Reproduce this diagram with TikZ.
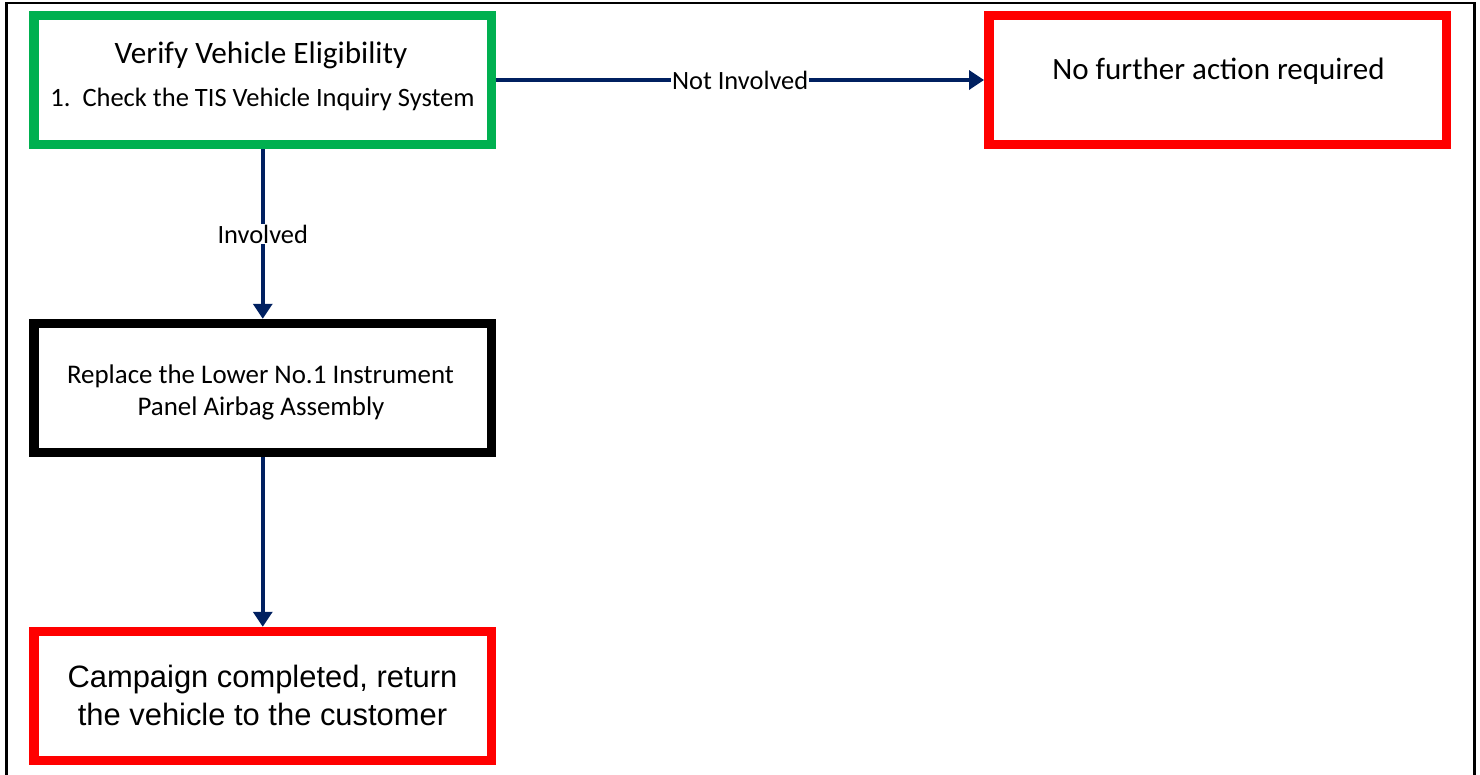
\documentclass[tikz,border=0pt]{standalone}
\usepackage{fontspec}
\setmainfont{Carlito}
\newfontfamily\arialfont{Liberation Sans}
\usetikzlibrary{arrows.meta,calc}
\definecolor{navy}{HTML}{002060}
\definecolor{boxgreen}{HTML}{00B050}
\definecolor{boxred}{HTML}{FF0000}
\tikzset{
  box/.style={draw, line width=9.5pt, fill=white, minimum width=457.5pt, minimum height=129pt, inner sep=0pt},
  flow/.style={draw=navy, line width=3.5pt, -{Triangle[length=15pt,width=19pt]}},
  edgelabel/.style={fill=white, inner sep=1pt, font=\fontsize{26.4}{30}\selectfont},
}
\begin{document}
\begin{tikzpicture}[x=1pt,y=-1pt]
\useasboundingbox (0,0) rectangle (1480,774);
\draw[line width=2.5pt] (6.5,810) -- (6.5,3) -- (1474.5,3) -- (1474.5,810);

\node[box, draw=boxgreen] (ver) at (262.75,80) {};
\node[box, draw=boxred] (nofa) at (1217.5,80) {};
\node[box, draw=black] (rep) at (262.75,388) {};
\node[box, draw=boxred] (camp) at (262.75,696) {};

\node[anchor=base, font=\fontsize{31.2}{35}\selectfont] (vt1) at (261,63) {Verify Vehicle Eligibility};
\node[anchor=base, font=\fontsize{26.5}{30}\selectfont] (vt2) at (262.5,106) {1.\ \ Check the TIS Vehicle Inquiry System};
\node[anchor=base, font=\fontsize{31}{35}\selectfont] (nt) at (1218.5,79) {No further action required};
\node[anchor=base, font=\fontsize{26.9}{30}\selectfont] (rt1) at (260.5,383) {Replace the Lower No.1 Instrument};
\node[anchor=base, font=\fontsize{26.9}{30}\selectfont] (rt2) at (261,415) {Panel Airbag Assembly};
\node[anchor=base, font=\arialfont\fontsize{30.9}{35}\selectfont] (ct1) at (262.5,687) {Campaign completed, return};
\node[anchor=base, font=\arialfont\fontsize{30.9}{35}\selectfont] (ct2) at (262.5,725) {the vehicle to the customer};

\draw[flow] (ver.east) -- node[edgelabel] {Not Involved} (nofa.west);
\draw[flow] (ver.south) -- node[edgelabel] {Involved} (rep.north);
\draw[flow] (rep.south) -- (camp.north);
\end{tikzpicture}
\end{document}
